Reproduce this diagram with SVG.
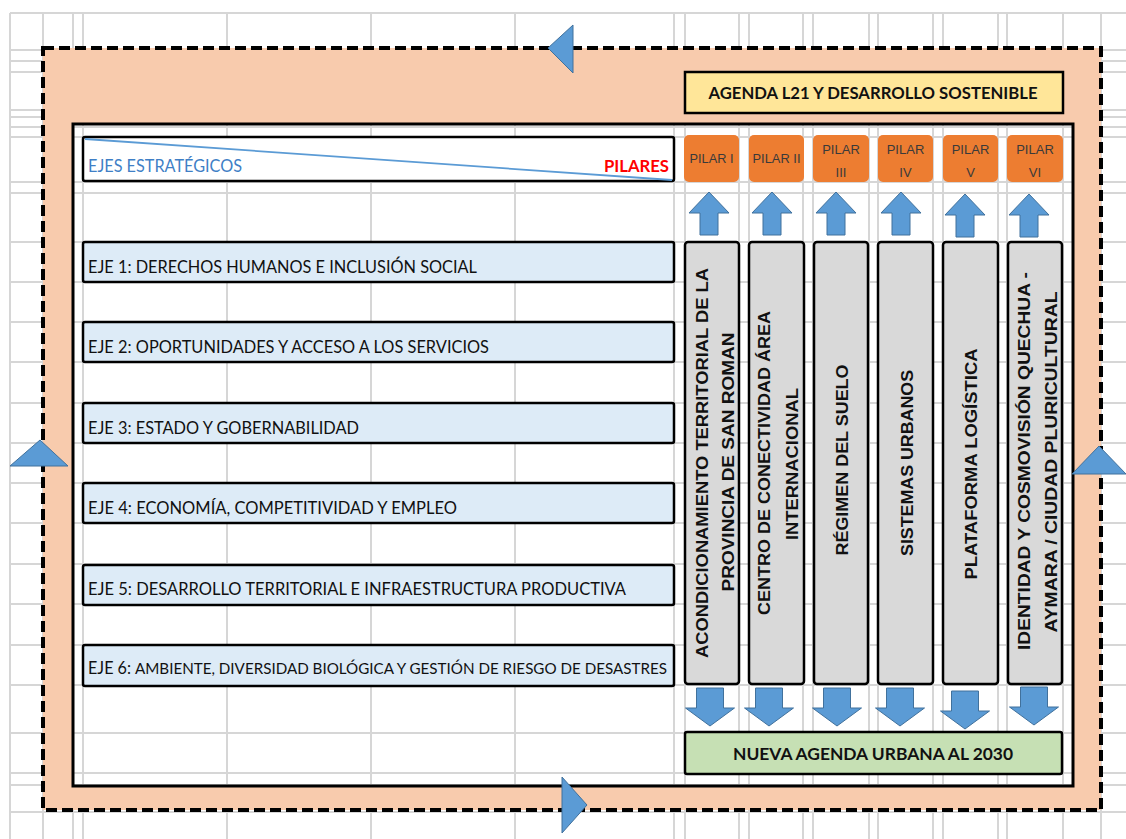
<svg xmlns="http://www.w3.org/2000/svg" width="1126" height="839" viewBox="0 0 1126 839">
<style>
.grid{stroke:#d6d6d6;stroke-width:2;fill:none}
.box{stroke:#000;stroke-width:2.5}
.eje{fill:#DDEBF7}
.gray{fill:#D9D9D9}
.pil{fill:#ED7D31}
.blue{fill:#5B9BD5;stroke:#41719C;stroke-width:1}
.t{font-family:Lato,"Liberation Sans",Arial,sans-serif;fill:#111}
.ejet{font-size:17.5px}
.b{font-weight:bold}
.pt{font-family:"Liberation Sans",Arial,sans-serif;font-size:13px;fill:#3a3a3a;text-anchor:middle}
.vt{font-family:"Liberation Sans",Arial,sans-serif;font-size:16px;font-weight:bold;fill:#111;text-anchor:middle}
</style>
<defs>
<path id="up" d="M0,0 L20,21 L9,21 L9,43 L-9,43 L-9,21 L-20,21 Z"/>
<path id="down" d="M-13.5,0 L13.5,0 L13.5,20 L24.5,20 L0,38 L-24.5,20 L-13.5,20 Z"/>
</defs>
<rect x="0" y="0" width="1126" height="839" fill="#fff"/>
<g id="grid">
<path class="grid" d="M10,13H1126 M10,50H1126 M10,61H1126 M10,72H1126 M10,110H1126 M10,117H1126 M10,127H1126 M10,137H1126 M10,182H1126 M10,193H1126 M10,242H1126 M10,282H1126 M10,322H1126 M10,362H1126 M10,403H1126 M10,443H1126 M10,483H1126 M10,523H1126 M10,564H1126 M10,604H1126 M10,645H1126 M10,685H1126 M10,733H1126 M10,773H1126 M10,785H1126 M10,812H1126
M10,13V839 M43,13V839 M73,13V839 M83,13V839 M227,13V839 M371,13V839 M515,13V839 M674,13V839 M685,13V839 M739,13V839 M749,13V839 M803,13V839 M813,13V839 M869,13V839 M878,13V839 M933,13V839 M943,13V839 M998,13V839 M1007,13V839 M1063,13V839 M1101,13V839"/>
</g>
<g id="frame">
<path d="M43,48H1101V810H43Z M73,124V786H1073V124Z" fill="#F8CBAD" fill-rule="evenodd"/>
<rect x="43" y="48" width="1058" height="762" fill="none" stroke="#000" stroke-width="4" stroke-dasharray="11 5"/>
<rect x="73" y="124" width="1000" height="662" fill="none" stroke="#000" stroke-width="3"/>
</g>
<g id="cycle-arrows">
<polygon class="blue" points="548,48 573,25 573,73"/>
<polygon class="blue" points="562,777 587,805 562,833"/>
<polygon class="blue" points="40,440 10,466 68,466"/>
<polygon class="blue" points="1099,446 1072,474 1126,474"/>
</g>
<g id="agenda-l21">
<rect class="box" x="685" y="72" width="378" height="41" fill="#FFE699"/>
<text class="t b" x="873" y="99" font-size="17" text-anchor="middle" textLength="329" lengthAdjust="spacingAndGlyphs">AGENDA L21 Y DESARROLLO SOSTENIBLE</text>
</g>
<g id="header">
<rect class="box" x="83" y="137" width="591" height="44" rx="2" fill="#fff"/>
<line x1="85" y1="139" x2="672" y2="180" stroke="#5B9BD5" stroke-width="1.8"/>
<text x="88" y="172" font-family="Lato,'Liberation Sans',Arial,sans-serif" font-size="17" fill="#3f7fc6" textLength="154" lengthAdjust="spacingAndGlyphs">EJES ESTRATÉGICOS</text>
<text x="669" y="172" font-family="Lato,'Liberation Sans',Arial,sans-serif" font-size="17" font-weight="bold" fill="#ff0000" text-anchor="end" textLength="65" lengthAdjust="spacingAndGlyphs">PILARES</text>
</g>
<g id="pilar-1"><rect class="pil" x="684" y="135" width="55" height="47" rx="5"/><text class="pt" x="711.5" y="163" textLength="44" lengthAdjust="spacingAndGlyphs">PILAR I</text></g>
<g id="pilar-2"><rect class="pil" x="749" y="135" width="55" height="47" rx="5"/><text class="pt" x="776.5" y="163" textLength="48" lengthAdjust="spacingAndGlyphs">PILAR II</text></g>
<g id="pilar-3"><rect class="pil" x="813" y="135" width="56" height="47" rx="5"/><text class="pt" x="841" y="154">PILAR</text><text class="pt" x="841" y="177">III</text></g>
<g id="pilar-4"><rect class="pil" x="878" y="135" width="55" height="47" rx="5"/><text class="pt" x="905.5" y="154">PILAR</text><text class="pt" x="905.5" y="177">IV</text></g>
<g id="pilar-5"><rect class="pil" x="943" y="135" width="55" height="47" rx="5"/><text class="pt" x="970.5" y="154">PILAR</text><text class="pt" x="970.5" y="177">V</text></g>
<g id="pilar-6"><rect class="pil" x="1007" y="135" width="56" height="47" rx="5"/><text class="pt" x="1035" y="154">PILAR</text><text class="pt" x="1035" y="177">VI</text></g>
<g id="eje-1"><rect class="box eje" x="83" y="242" width="591" height="40" rx="2"/><text class="t ejet" x="88" y="273" textLength="389" lengthAdjust="spacingAndGlyphs">EJE 1: DERECHOS HUMANOS E INCLUSIÓN SOCIAL</text></g>
<g id="eje-2"><rect class="box eje" x="83" y="322" width="591" height="40" rx="2"/><text class="t ejet" x="88" y="353" textLength="401" lengthAdjust="spacingAndGlyphs">EJE 2: OPORTUNIDADES Y ACCESO A LOS SERVICIOS</text></g>
<g id="eje-3"><rect class="box eje" x="83" y="403" width="591" height="40" rx="2"/><text class="t ejet" x="88" y="434" textLength="271" lengthAdjust="spacingAndGlyphs">EJE 3: ESTADO Y GOBERNABILIDAD</text></g>
<g id="eje-4"><rect class="box eje" x="83" y="483" width="591" height="40" rx="2"/><text class="t ejet" x="88" y="514" textLength="369" lengthAdjust="spacingAndGlyphs">EJE 4: ECONOMÍA, COMPETITIVIDAD Y EMPLEO</text></g>
<g id="eje-5"><rect class="box eje" x="83" y="565" width="591" height="40" rx="2"/><text class="t ejet" x="88" y="595" textLength="538" lengthAdjust="spacingAndGlyphs">EJE 5: DESARROLLO TERRITORIAL E INFRAESTRUCTURA PRODUCTIVA</text></g>
<g id="eje-6"><rect class="box eje" x="83" y="645" width="591" height="41" rx="2"/><text class="t ejet" x="88" y="674" textLength="43" lengthAdjust="spacingAndGlyphs">EJE 6:</text><text class="t" x="135" y="674" font-size="15" textLength="532" lengthAdjust="spacingAndGlyphs">AMBIENTE, DIVERSIDAD BIOLÓGICA Y GESTIÓN DE RIESGO DE DESASTRES</text></g>
<g id="pilar-box-1"><rect class="box gray" x="685" y="242" width="54" height="442" rx="3"/>
<text class="vt" transform="translate(708,463) rotate(-90)" textLength="390" lengthAdjust="spacingAndGlyphs">ACONDICIONAMIENTO TERRITORIAL DE LA</text>
<text class="vt" transform="translate(734,462) rotate(-90)" textLength="259" lengthAdjust="spacingAndGlyphs">PROVINCIA DE SAN ROMAN</text></g>
<g id="pilar-box-2"><rect class="box gray" x="749" y="242" width="55" height="442" rx="3"/>
<text class="vt" transform="translate(770,463) rotate(-90)" textLength="304" lengthAdjust="spacingAndGlyphs">CENTRO DE CONECTIVIDAD  ÁREA</text>
<text class="vt" transform="translate(798,464) rotate(-90)" textLength="152" lengthAdjust="spacingAndGlyphs">INTERNACIONAL</text></g>
<g id="pilar-box-3"><rect class="box gray" x="814" y="242" width="54" height="442" rx="3"/>
<text class="vt" transform="translate(848,460) rotate(-90)" textLength="191" lengthAdjust="spacingAndGlyphs">RÉGIMEN DEL SUELO</text></g>
<g id="pilar-box-4"><rect class="box gray" x="878" y="242" width="55" height="442" rx="3"/>
<text class="vt" transform="translate(913,463) rotate(-90)" textLength="186" lengthAdjust="spacingAndGlyphs">SISTEMAS URBANOS</text></g>
<g id="pilar-box-5"><rect class="box gray" x="943" y="242" width="55" height="442" rx="3"/>
<text class="vt" transform="translate(977,464) rotate(-90)" textLength="231" lengthAdjust="spacingAndGlyphs">PLATAFORMA  LOGÍSTICA</text></g>
<g id="pilar-box-6"><rect class="box gray" x="1008" y="242" width="54" height="442" rx="3"/>
<text class="vt" transform="translate(1030,461) rotate(-90)" textLength="378" lengthAdjust="spacingAndGlyphs">IDENTIDAD Y COSMOVISIÓN QUECHUA -</text>
<text class="vt" transform="translate(1057,462) rotate(-90)" textLength="341" lengthAdjust="spacingAndGlyphs">AYMARA / CIUDAD PLURICULTURAL</text></g>
<g id="nueva-agenda">
<rect class="box" x="685" y="732" width="377" height="42" rx="2" fill="#C6E0B4"/>
<text class="t b" x="873" y="760" font-size="17" text-anchor="middle" textLength="280" lengthAdjust="spacingAndGlyphs">NUEVA AGENDA URBANA AL 2030</text>
</g>
<g id="connectors">
<use href="#up" class="blue" x="709" y="192"/>
<use href="#up" class="blue" x="772" y="192"/>
<use href="#up" class="blue" x="836" y="192"/>
<use href="#up" class="blue" x="901" y="192"/>
<use href="#up" class="blue" x="965" y="194"/>
<use href="#up" class="blue" x="1029" y="194"/>
<use href="#down" class="blue" x="710" y="688"/>
<use href="#down" class="blue" x="769" y="688"/>
<use href="#down" class="blue" x="837" y="688"/>
<use href="#down" class="blue" x="900" y="688"/>
<use href="#down" class="blue" x="965" y="691"/>
<use href="#down" class="blue" x="1034" y="687"/>
</g>
</svg>
